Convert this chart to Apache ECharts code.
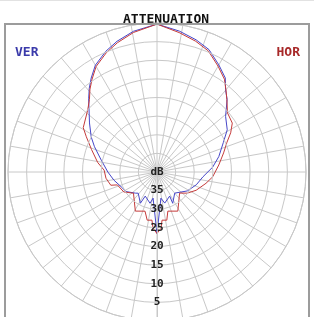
<!DOCTYPE html>
<html>
<head>
<meta charset="utf-8">
<script src="https://cdn.jsdelivr.net/npm/echarts@6/dist/echarts.min.js"></script>
<style>
html,body{margin:0;padding:0;background:#fff;}
#chart{width:314px;height:317px;}
</style>
</head>
<body>
<div id="chart"></div>
<script>
// ---- data (angle in degrees from main beam, clockwise; attenuation in dB) ----
const titleText = 'ATTENUATION';
const verName = 'VER';
const horName = 'HOR';
const ringMin = 0, ringMax = 40, ringStep = 5;
const centerLabel = 'dB';

const horAngles = [-180, -176, -174, -168.5, -163, -151, -132, -121, -108, -106, -97, -88, -81, -71, -63.5, -59, -48, -43, -39, -35, -30, -23, -17, -9.5, 0, 9, 16.5, 23, 30, 36, 40, 44, 50, 57, 62, 67, 74, 83.5, 95, 103, 115, 125, 133, 152, 164.5, 168.5, 174, 176, 180];
const horAtt = [23.5, 24.8, 27.0, 26.8, 29.0, 28.0, 31.5, 29.6, 28.8, 27.1, 26.2, 25.8, 23.9, 21.4, 18.8, 16.9, 15.0, 13.4, 11.4, 9.6, 7.3, 5.2, 3.7, 2.0, 0.3, 2.1, 3.4, 4.7, 7.2, 9.2, 11.2, 13.0, 15.3, 15.9, 17.6, 19.6, 21.4, 23.3, 25.0, 26.5, 28.4, 30.1, 31.7, 28.1, 29.1, 26.8, 27.0, 24.8, 23.5];

const verAngles = [-180, -171.5, -167.5, -154, -152, -138.5, -134.5, -122, -115, -100.5, -90, -78, -68, -62, -54, -43, -39, -35, -30, -23, -17, -9.5, 0, 9, 16.5, 23, 30, 36, 39.7, 44, 51, 59, 66, 76, 85, 96, 108, 122, 140, 153.3, 152.2, 166, 171.5, 180];
const verAtt = [23.5, 32.9, 31.4, 32.8, 30.5, 32.4, 31.9, 30.1, 29.8, 28.2, 26.8, 24.7, 21.9, 20.0, 17.6, 13.1, 11.1, 9.2, 6.9, 4.8, 3.3, 1.7, 0.3, 1.7, 3.0, 4.3, 6.8, 8.8, 11.2, 12.9, 16.3, 18.0, 20.5, 22.9, 25.0, 27.6, 28.9, 30.4, 32.6, 30.6, 32.7, 31.4, 32.9, 23.5];

// ---- build ----
const pairs = (ang, att) => ang.map((a, i) => [att[i], a]);
const gridColor = '#c8c8c8';
const mono = '"DejaVu Sans Mono", monospace';

const chart = echarts.init(document.getElementById('chart'));
chart.setOption({
  animation: false,
  backgroundColor: '#fff',
  title: {
    text: titleText, left: 118, top: 8,
    textStyle: {fontFamily: mono, fontWeight: 'bold', fontSize: 13, color: '#111'}
  },
  graphic: [
    {type: 'line', shape: {x1: 0, y1: 0.5, x2: 314, y2: 0.5}, style: {stroke: '#e2e2e2', lineWidth: 1}, z: 0},
    {type: 'rect', shape: {x: 5, y: 24, width: 304, height: 320}, style: {fill: 'none', stroke: '#9c9c9c', lineWidth: 2}, z: 100},
    {type: 'text', left: 15, top: 46, style: {text: verName, fill: '#3a3aaa', font: 'bold 13px ' + mono}, z: 100},
    {type: 'text', right: 14, top: 46, style: {text: horName, fill: '#a82a2a', font: 'bold 13px ' + mono}, z: 100}
  ],
  polar: {center: [157, 172], radius: 149},
  angleAxis: {
    type: 'value', min: -180, max: 180, interval: 10,
    startAngle: 270, clockwise: true,
    axisLine: {show: true, lineStyle: {color: gridColor, width: 1}},
    axisTick: {show: false},
    axisLabel: {show: false},
    splitLine: {show: true, lineStyle: {color: gridColor, width: 1}}
  },
  radiusAxis: {
    type: 'value', min: ringMin, max: ringMax, interval: ringStep, inverse: true,
    axisLine: {show: true, lineStyle: {color: gridColor}},
    axisTick: {show: false},
    splitLine: {show: true, lineStyle: {color: gridColor, width: 1}},
    axisLabel: {
      show: true, margin: 0, align: 'center', verticalAlign: 'middle',
      fontFamily: mono, fontWeight: 'bold', fontSize: 11, color: '#222',
      formatter: v => v === ringMax ? centerLabel : (v === ringMin ? '' : String(v))
    },
    z: 10
  },
  series: [
    {name: verName, type: 'line', coordinateSystem: 'polar', data: pairs(verAngles, verAtt),
     showSymbol: false, lineStyle: {color: '#4646c8', width: 1}, itemStyle: {color: '#4646c8'}, z: 3},
    {name: horName, type: 'line', coordinateSystem: 'polar', data: pairs(horAngles, horAtt),
     showSymbol: false, lineStyle: {color: '#c43a3a', width: 1}, itemStyle: {color: '#c43a3a'}, z: 4}
  ]
});
</script>
</body>
</html>
